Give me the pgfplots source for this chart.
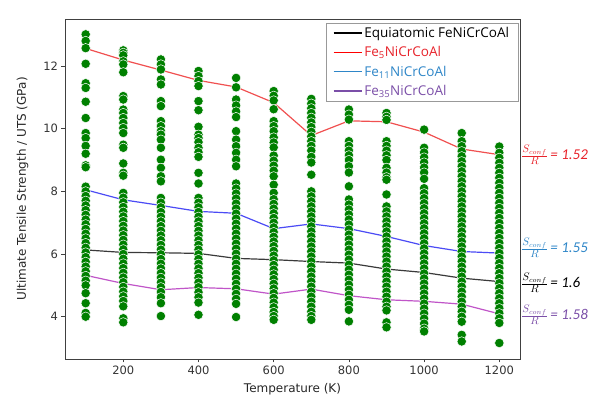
\documentclass[border=0pt]{standalone}
\usepackage{pgfplots}
\pgfplotsset{compat=1.18}
\usepackage{fontspec}
\setmainfont{DejaVu Sans}
\newfontfamily\legfont{Open Sans}
\newfontfamily\carlito{Carlito}
\definecolor{scat}{HTML}{008000}
\definecolor{lblack}{HTML}{3A3A3A}
\definecolor{lred}{HTML}{F05050}
\definecolor{lblue}{HTML}{4B4BF5}
\definecolor{lpurple}{HTML}{C055C8}
\definecolor{gred}{HTML}{E8232B}
\definecolor{gblue}{HTML}{2E86C8}
\definecolor{gpurple}{HTML}{7B4FA8}
\newcommand{\sconf}[2]{\textcolor{#1}{\fontsize{15}{17}\selectfont$\frac{S_{conf}}{R}$\,{\carlito\itshape = #2}}}
\begin{document}
\begin{tikzpicture}
\useasboundingbox (0pt,0pt) rectangle (598pt,403pt);
\begin{axis}[
  at={(65pt,44pt)}, anchor=south west,
  width=455pt, height=340pt, scale only axis,
  xmin=45, xmax=1255, ymin=2.65, ymax=13.5,
  xtick={200,400,...,1200}, ytick={4,6,8,10,12},
  tick align=outside, tick pos=left, major tick length=3.5pt,
  axis line style={black!75, line width=0.6pt},
  tick style={black!75, line width=0.6pt},
  ticklabel style={font=\fontsize{11.5}{13}\selectfont, text=black!80},
  /pgf/number format/assume math mode=true,
  /pgf/number format/1000 sep={},
  xlabel={Temperature (K)},
  ylabel={Ultimate Tensile Strength / UTS (GPa)},
  label style={font=\fontsize{12}{14}\selectfont, text=black!85},
  xlabel style={at={(axis description cs:0.5,-0.09)}, anchor=center},
  ylabel style={at={(axis description cs:-0.093,0.5)}, anchor=center},
  legend style={at={(0.996,0.988)}, anchor=north east, draw=black!40,
    font=\legfont\fontsize{13.5}{15}\selectfont, row sep=3.5pt,
    inner xsep=7pt, inner ysep=2pt},
  legend cell align=left,
  legend image code/.code={\draw[#1] (0pt,0pt) -- (28pt,0pt);},
  clip=false,
  scat/.style={only marks, mark=*, mark size=4.7pt,
    mark options={fill=scat, draw=white, line width=0.5pt}, forget plot},
]
% 100 K
\addplot[scat] coordinates {(100,13.01)(100,12.80)(100,12.57)(100,12.07)(100,11.45)(100,11.30)(100,10.86)(100,10.34)(100,9.86)(100,9.70)(100,9.45)(100,9.20)(100,8.83)(100,8.77)(100,8.15)(100,8.00)(100,7.85)(100,7.70)(100,7.55)(100,7.40)(100,7.25)(100,7.10)(100,6.95)(100,6.80)(100,6.65)(100,6.50)(100,6.35)(100,6.20)(100,6.05)(100,5.90)(100,5.75)(100,5.60)(100,5.45)(100,5.30)(100,5.15)(100,5.00)(100,4.75)(100,4.43)(100,4.12)(100,4.00)};
% 200 K
\addplot[scat] coordinates {(200,12.50)(200,12.42)(200,12.34)(200,12.15)(200,12.05)(200,11.80)(200,11.04)(200,10.93)(200,10.61)(200,10.50)(200,10.34)(200,10.18)(200,10.02)(200,9.86)(200,9.49)(200,9.39)(200,8.89)(200,8.59)(200,8.50)(200,7.95)(200,7.80)(200,7.65)(200,7.50)(200,7.35)(200,7.20)(200,7.05)(200,6.90)(200,6.75)(200,6.60)(200,6.45)(200,6.30)(200,6.15)(200,6.00)(200,5.85)(200,5.70)(200,5.55)(200,5.40)(200,5.25)(200,5.10)(200,4.95)(200,4.80)(200,4.65)(200,4.50)(200,4.33)(200,3.95)(200,3.82)};
% 300 K
\addplot[scat] coordinates {(300,12.21)(300,12.05)(300,11.89)(300,11.57)(300,11.41)(300,10.88)(300,10.72)(300,10.24)(300,10.08)(300,9.92)(300,9.81)(300,9.65)(300,9.39)(300,9.01)(300,8.75)(300,8.48)(300,8.32)(300,7.79)(300,7.64)(300,7.49)(300,7.34)(300,7.19)(300,7.04)(300,6.89)(300,6.74)(300,6.59)(300,6.44)(300,6.29)(300,6.14)(300,5.99)(300,5.84)(300,5.69)(300,5.54)(300,5.39)(300,5.24)(300,5.09)(300,4.94)(300,4.79)(300,4.62)(300,4.43)(300,4.02)};
% 400 K
\addplot[scat] coordinates {(400,11.84)(400,11.68)(400,11.52)(400,11.36)(400,10.88)(400,10.59)(400,10.06)(400,9.81)(400,9.70)(400,9.57)(400,9.39)(400,9.25)(400,9.10)(400,8.59)(400,8.25)(400,7.79)(400,7.64)(400,7.49)(400,7.34)(400,7.19)(400,7.04)(400,6.89)(400,6.74)(400,6.59)(400,6.44)(400,6.29)(400,6.14)(400,5.99)(400,5.84)(400,5.69)(400,5.54)(400,5.39)(400,5.24)(400,5.09)(400,4.94)(400,4.78)(400,4.62)(400,4.45)(400,4.06)};
% 500 K
\addplot[scat] coordinates {(500,11.62)(500,11.32)(500,10.93)(500,10.74)(500,10.55)(500,10.37)(500,9.92)(500,9.65)(500,9.44)(500,9.23)(500,9.01)(500,8.80)(500,8.25)(500,8.09)(500,7.93)(500,7.77)(500,7.61)(500,7.45)(500,7.29)(500,7.13)(500,6.97)(500,6.81)(500,6.65)(500,6.49)(500,6.33)(500,6.17)(500,6.01)(500,5.85)(500,5.69)(500,5.53)(500,5.37)(500,5.21)(500,5.05)(500,4.89)(500,4.73)(500,4.57)(500,4.41)(500,3.99)};
% 600 K
\addplot[scat] coordinates {(600,11.20)(600,11.05)(600,10.90)(600,10.62)(600,10.24)(600,10.08)(600,9.92)(600,9.72)(600,9.56)(600,9.40)(600,9.14)(600,8.98)(600,8.82)(600,8.66)(600,8.48)(600,8.21)(600,7.95)(600,7.75)(600,7.60)(600,7.45)(600,7.30)(600,7.15)(600,7.00)(600,6.85)(600,6.70)(600,6.55)(600,6.40)(600,6.25)(600,6.10)(600,5.95)(600,5.80)(600,5.65)(600,5.50)(600,5.35)(600,5.20)(600,5.05)(600,4.90)(600,4.75)(600,4.60)(600,4.45)(600,4.30)(600,4.15)(600,4.02)(600,3.90)};
% 700 K
\addplot[scat] coordinates {(700,10.95)(700,10.80)(700,10.65)(700,10.50)(700,10.35)(700,10.20)(700,10.05)(700,9.90)(700,9.75)(700,9.60)(700,9.45)(700,9.30)(700,9.10)(700,8.92)(700,8.53)(700,8.00)(700,7.84)(700,7.68)(700,7.52)(700,7.36)(700,7.20)(700,7.04)(700,6.88)(700,6.72)(700,6.56)(700,6.40)(700,6.24)(700,6.08)(700,5.92)(700,5.76)(700,5.60)(700,5.44)(700,5.28)(700,5.12)(700,4.96)(700,4.80)(700,4.64)(700,4.48)(700,4.32)(700,4.16)(700,4.02)(700,3.90)};
% 800 K
\addplot[scat] coordinates {(800,10.61)(800,10.45)(800,10.29)(800,9.60)(800,9.45)(800,9.30)(800,9.15)(800,9.00)(800,8.80)(800,8.60)(800,8.16)(800,7.74)(800,7.58)(800,7.42)(800,7.26)(800,7.10)(800,6.94)(800,6.78)(800,6.62)(800,6.46)(800,6.30)(800,6.14)(800,5.98)(800,5.82)(800,5.66)(800,5.50)(800,5.34)(800,5.18)(800,5.02)(800,4.86)(800,4.70)(800,4.54)(800,4.38)(800,4.22)(800,3.85)};
% 900 K
\addplot[scat] coordinates {(900,10.50)(900,10.38)(900,10.28)(900,9.60)(900,9.45)(900,9.30)(900,9.15)(900,9.00)(900,8.75)(900,8.60)(900,8.45)(900,8.37)(900,7.90)(900,7.52)(900,7.36)(900,7.20)(900,7.04)(900,6.88)(900,6.72)(900,6.56)(900,6.40)(900,6.24)(900,6.08)(900,5.92)(900,5.76)(900,5.60)(900,5.44)(900,5.28)(900,5.12)(900,4.96)(900,4.80)(900,4.64)(900,4.48)(900,4.32)(900,4.20)(900,3.82)(900,3.66)};
% 1000 K
\addplot[scat] coordinates {(1000,9.97)(1000,9.39)(1000,9.24)(1000,9.08)(1000,8.92)(1000,8.76)(1000,8.60)(1000,8.40)(1000,8.10)(1000,7.94)(1000,7.78)(1000,7.62)(1000,7.46)(1000,7.30)(1000,7.14)(1000,6.98)(1000,6.82)(1000,6.66)(1000,6.50)(1000,6.34)(1000,6.18)(1000,6.02)(1000,5.86)(1000,5.70)(1000,5.54)(1000,5.38)(1000,5.22)(1000,5.06)(1000,4.90)(1000,4.74)(1000,4.58)(1000,4.42)(1000,4.26)(1000,4.10)(1000,3.94)(1000,3.78)(1000,3.62)(1000,3.53)};
% 1100 K
\addplot[scat] coordinates {(1100,9.86)(1100,9.60)(1100,9.44)(1100,9.28)(1100,9.12)(1100,8.96)(1100,8.80)(1100,8.64)(1100,8.48)(1100,8.32)(1100,8.16)(1100,8.00)(1100,7.84)(1100,7.68)(1100,7.52)(1100,7.36)(1100,7.20)(1100,7.04)(1100,6.88)(1100,6.72)(1100,6.56)(1100,6.40)(1100,6.24)(1100,6.08)(1100,5.92)(1100,5.76)(1100,5.60)(1100,5.44)(1100,5.28)(1100,5.12)(1100,4.96)(1100,4.80)(1100,4.64)(1100,4.48)(1100,4.32)(1100,4.16)(1100,4.00)(1100,3.84)(1100,3.42)(1100,3.21)};
% 1200 K
\addplot[scat] coordinates {(1200,9.43)(1200,9.23)(1200,9.07)(1200,8.91)(1200,8.75)(1200,8.59)(1200,8.43)(1200,8.27)(1200,8.11)(1200,7.95)(1200,7.79)(1200,7.63)(1200,7.47)(1200,7.31)(1200,7.15)(1200,6.99)(1200,6.83)(1200,6.67)(1200,6.51)(1200,6.35)(1200,6.19)(1200,6.03)(1200,5.87)(1200,5.71)(1200,5.55)(1200,5.39)(1200,5.23)(1200,5.07)(1200,4.91)(1200,4.75)(1200,4.59)(1200,4.43)(1200,4.27)(1200,4.11)(1200,3.95)(1200,3.80)(1200,3.16)};
% lines
\addplot[lblack, line width=1.2pt, forget plot] coordinates {(100,6.13)(200,6.05)(300,6.04)(400,6.02)(500,5.86)(600,5.82)(700,5.76)(800,5.71)(900,5.52)(1000,5.41)(1100,5.23)(1200,5.12)};
\addplot[lred, line width=1.2pt, forget plot] coordinates {(100,12.56)(200,12.19)(300,11.87)(400,11.54)(500,11.33)(600,10.83)(700,9.78)(800,10.25)(900,10.22)(1000,9.89)(1100,9.35)(1200,9.17)};
\addplot[lblue, line width=1.2pt, forget plot] coordinates {(100,8.05)(200,7.73)(300,7.55)(400,7.36)(500,7.30)(600,6.81)(700,6.96)(800,6.81)(900,6.56)(1000,6.27)(1100,6.08)(1200,6.03)};
\addplot[lpurple, line width=1.2pt, forget plot] coordinates {(100,5.32)(200,5.06)(300,4.86)(400,4.93)(500,4.89)(600,4.72)(700,4.88)(800,4.67)(900,4.54)(1000,4.49)(1100,4.40)(1200,4.09)};
\addlegendimage{black, line width=1.3pt}
\addlegendentry{Equiatomic FeNiCrCoAl}
\addlegendimage{red, line width=1.3pt}
\addlegendentry{\textcolor{gred}{Fe\textsubscript{5}NiCrCoAl}}
\addlegendimage{gblue, line width=1.3pt}
\addlegendentry{\textcolor{gblue}{Fe\textsubscript{11}NiCrCoAl}}
\addlegendimage{gpurple, line width=1.3pt}
\addlegendentry{\textcolor{gpurple}{Fe\textsubscript{35}NiCrCoAl}}
\end{axis}
\node[anchor=west, inner sep=0] at (521pt,248pt) {\sconf{gred}{1.52}};
\node[anchor=west, inner sep=0] at (521pt,155pt) {\sconf{gblue}{1.55}};
\node[anchor=west, inner sep=0] at (521pt,120pt) {\sconf{black}{1.6}};
\node[anchor=west, inner sep=0] at (521pt,88pt) {\sconf{gpurple}{1.58}};
\end{tikzpicture}
\end{document}
